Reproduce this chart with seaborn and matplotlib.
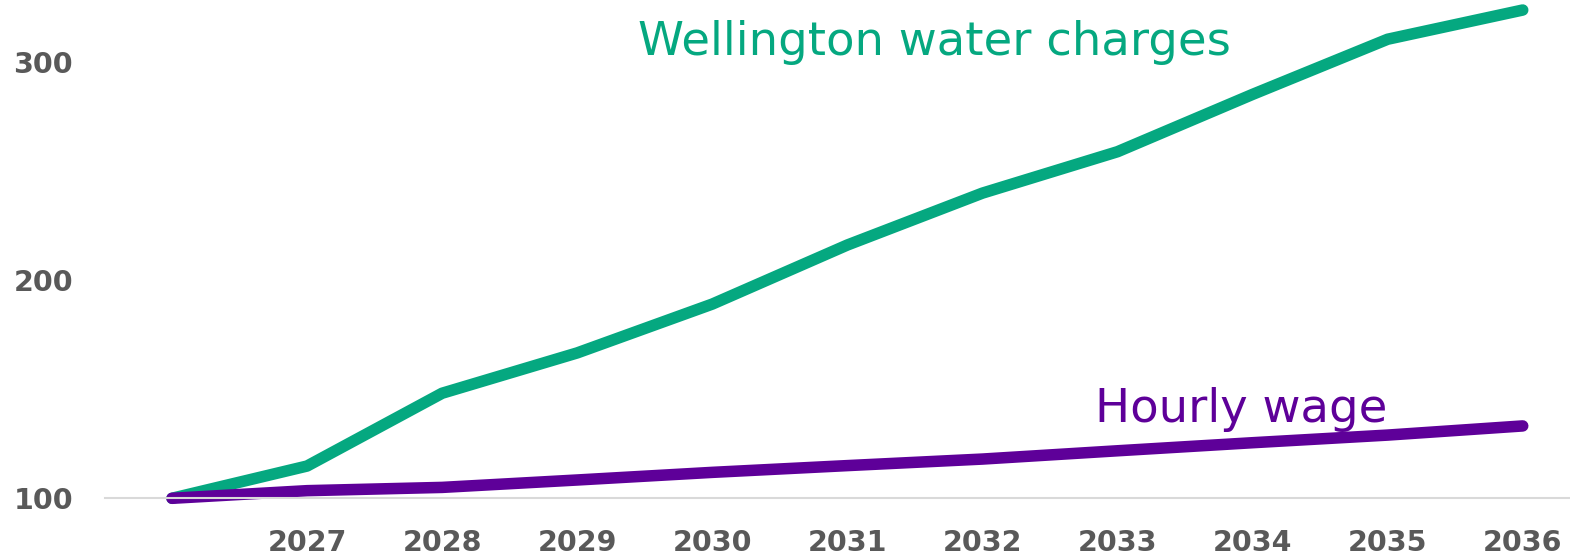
import matplotlib
matplotlib.use("Agg")
import matplotlib.pyplot as plt
import seaborn as sns
import pandas as pd

years = [2026, 2027, 2028, 2029, 2030, 2031, 2032, 2033, 2034, 2035, 2036]
water_charges = [100, 114.8, 148.2, 166.7, 189.1, 216.2, 240.0, 259.0, 285.3, 310.6, 324.0]
hourly_wage = [100, 103.5, 105.0, 108.4, 111.9, 115.0, 118.0, 121.8, 125.5, 129.0, 133.2]
x_tick_labels = ["", "2027", "2028", "2029", "2030", "2031", "2032", "2033", "2034", "2035", "2036"]
y_ticks = [100, 200, 300]
series_names = ["Wellington water charges", "Hourly wage"]

GREEN = "#05A880"
PURPLE = "#5E0099"
GREY = "#595959"

sns.set_theme(style="white")
plt.rcParams["font.family"] = ["DejaVu Sans"]

df = pd.DataFrame({"year": years, "water": water_charges, "wage": hourly_wage})

fig = plt.figure(figsize=(15.7, 5.58), dpi=100)
ax = fig.add_axes([105 / 1570, (558 - 498.3) / 558, (1570 - 105) / 1570, 498.3 / 558])

sns.lineplot(data=df, x="year", y="water", ax=ax, color=GREEN, linewidth=8.3,
             solid_capstyle="round", solid_joinstyle="round", clip_on=False)
sns.lineplot(data=df, x="year", y="wage", ax=ax, color=PURPLE, linewidth=8.3,
             solid_capstyle="round", solid_joinstyle="round", clip_on=False)

ax.set_xlim(2025.504, 2036.35)
ax.set_ylim(100, 328.6)

ax.set_xticks(years)
ax.set_xticklabels(x_tick_labels)
ax.set_yticks(y_ticks)
ax.set_yticklabels([str(v) for v in y_ticks])
ax.tick_params(axis="x", length=0, pad=22, labelsize=20.5, labelcolor=GREY)
ax.tick_params(axis="y", length=0, pad=23, labelsize=20.5, labelcolor=GREY)
for lab in ax.get_xticklabels() + ax.get_yticklabels():
    lab.set_fontweight("bold")

ax.set_xlabel("")
ax.set_ylabel("")
for s in ["top", "right", "left"]:
    ax.spines[s].set_visible(False)
ax.spines["bottom"].set_color("#D9D9D9")
ax.spines["bottom"].set_linewidth(1.5)
ax.grid(False)

ax.text(2029.45, 303.4, series_names[0], color=GREEN, fontsize=33.5,
        ha="left", va="baseline")
ax.text(2032.83, 135.1, series_names[1], color=PURPLE, fontsize=33.5,
        ha="left", va="baseline")

fig.savefig("out.png", dpi=100)
